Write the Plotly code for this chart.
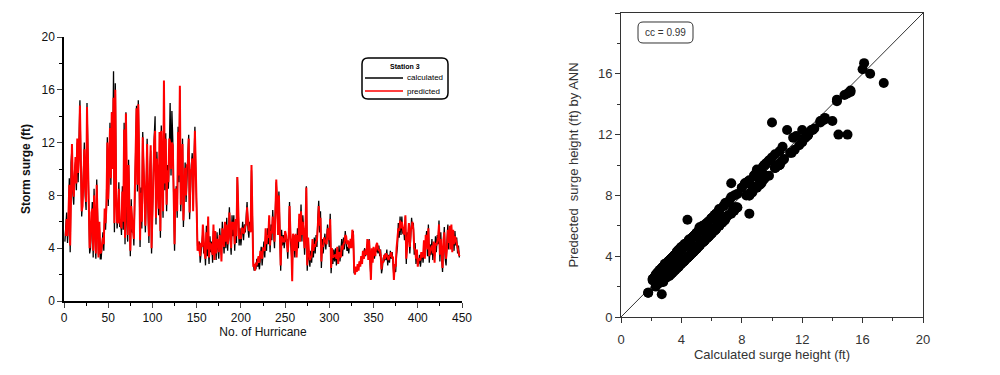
import plotly.graph_objects as go

# Hurricane index 1..447
calculated = [
    4.5, 5.3, 6.7, 4.4, 6.0, 9.3, 3.7, 10.5, 11.6, 8.2,
    7.3, 9.8, 10.5, 8.4, 12.0, 9.0, 11.5, 15.2, 10.7, 6.4,
    7.7, 9.5, 12.0, 8.0, 6.9, 15.0, 11.8, 9.2, 3.6, 4.0,
    6.2, 7.5, 3.3, 8.5, 5.0, 3.2, 9.2, 4.5, 3.5, 5.6,
    3.2, 3.2, 4.8, 5.2, 3.8, 6.5, 5.4, 7.6, 12.4, 7.2,
    10.0, 13.5, 8.8, 14.3, 10.5, 17.4, 5.2, 16.5, 8.5, 5.5,
    6.3, 9.0, 5.6, 6.2, 5.0, 8.7, 5.4, 13.5, 4.3, 14.3,
    6.0, 4.5, 10.7, 6.5, 3.4, 7.7, 5.2, 5.8, 4.2, 7.7,
    10.2, 14.8, 8.3, 15.2, 10.2, 4.1, 8.6, 5.5, 12.8, 9.8,
    6.5, 5.2, 8.4, 12.3, 7.0, 4.4, 9.5, 11.4, 3.6, 7.4,
    9.6, 12.4, 14.0, 5.8, 11.3, 8.3, 6.5, 10.0, 4.8, 13.3,
    9.4, 6.3, 16.1, 8.4, 12.7, 6.8, 10.3, 8.5, 11.0, 15.0,
    9.5, 14.4, 12.2, 7.3, 3.8, 8.0, 8.7, 6.3, 13.2, 9.0,
    16.0, 6.8, 10.2, 12.3, 5.6, 8.9, 10.5, 7.5, 9.8, 10.8,
    12.6, 6.2, 9.4, 10.3, 11.2, 8.5, 10.5, 13.2, 9.6, 6.0,
    4.2, 3.9, 4.5, 2.9, 3.8, 4.6, 5.2, 3.6, 4.1, 2.7,
    5.7, 3.4, 4.4, 2.8, 4.9, 3.7, 4.5, 2.9, 5.3, 3.6,
    4.8, 3.1, 5.2, 4.0, 3.2, 5.5, 4.2, 3.5, 6.0, 4.5,
    3.6, 5.5, 4.0, 6.3, 3.8, 5.2, 7.1, 4.6, 3.5, 6.5,
    4.9, 6.5, 3.8, 5.7, 4.4, 9.4, 5.8, 4.2, 5.5, 4.2,
    5.0, 6.0, 4.6, 5.8, 5.2, 6.3, 7.5, 5.5, 4.8, 6.0,
    5.7, 9.9, 6.2, 3.0, 2.3, 2.8, 2.4, 3.2, 2.6, 2.9,
    2.4, 3.3, 4.1, 2.7, 3.5, 4.5, 3.3, 5.0, 3.8, 5.5,
    4.3, 6.0, 3.7, 5.8, 4.6, 6.9, 5.2, 4.0, 7.0, 9.0,
    7.0, 5.5, 8.3, 4.5, 2.3, 5.4, 4.2, 5.0, 4.0, 4.8,
    4.5, 4.7, 3.2, 5.1, 7.5, 4.7, 3.8, 2.7, 4.6, 5.0,
    3.3, 4.6, 3.8, 5.5, 4.0, 6.2, 5.0, 7.3, 4.5, 6.5,
    5.4, 3.5, 5.0, 8.7, 2.3, 4.3, 3.2, 2.6, 3.8, 2.9,
    4.2, 3.3, 4.8, 3.6, 5.0, 4.1, 6.2, 7.6, 5.2, 6.8,
    2.5, 4.7, 3.6, 4.3, 5.1, 3.9, 4.8, 5.8, 5.0, 4.1,
    6.6, 2.1, 3.5, 2.8, 3.9, 3.0, 4.0, 2.7, 3.6, 3.3,
    4.2, 3.0, 3.8, 4.7, 3.4, 4.8, 3.9, 5.3, 4.4, 3.8,
    4.1, 3.6, 4.5, 4.2, 4.5, 5.0, 5.3, 2.1, 2.3, 2.2,
    2.5, 2.4, 2.7, 2.6, 3.0, 2.9, 3.2, 3.3, 3.6, 4.0,
    3.4, 3.9, 4.3, 3.5, 4.7, 3.0, 1.8, 3.5, 3.3, 3.6,
    3.2, 3.8, 3.7, 4.0, 3.6, 4.2, 3.4, 3.9, 2.1, 2.5,
    3.3, 3.0, 3.6, 3.1, 3.9, 2.7, 3.5, 2.9, 3.8, 3.2,
    3.7, 2.8, 1.8, 2.4, 2.2, 3.5, 4.1, 5.9, 4.8, 6.4,
    5.0, 6.4, 5.1, 5.6, 4.6, 6.4, 2.8, 5.2, 4.5, 5.4,
    3.6, 4.8, 6.3, 5.5, 5.9, 3.5, 4.4, 2.8, 3.4, 3.0,
    2.8, 3.5, 2.6, 3.2, 3.7, 2.9, 4.2, 3.7, 4.6, 5.3,
    3.4, 5.8, 2.9, 4.3, 3.5, 4.7, 3.1, 4.0, 3.4, 4.9,
    3.7, 5.0, 4.3, 6.1, 3.0, 5.2, 3.3, 2.2, 4.1, 5.6,
    3.2, 2.7, 4.5, 5.8, 3.9, 5.3, 4.4, 5.6, 4.2, 5.0,
    3.8, 5.3, 4.2, 4.8, 3.6, 4.2, 3.3,
]

predicted = [
    5.0, 5.0, 6.2, 4.9, 6.5, 8.8, 4.2, 10.0, 11.9, 8.8,
    7.9, 9.3, 10.9, 8.9, 12.3, 9.7, 11.0, 14.8, 11.2, 6.8,
    7.2, 10.0, 11.5, 8.5, 7.5, 14.7, 11.3, 8.7, 4.0, 4.6,
    6.7, 7.0, 3.8, 8.0, 5.5, 3.6, 8.8, 5.0, 3.3, 6.0,
    3.6, 3.7, 4.4, 4.8, 4.3, 7.0, 5.9, 7.2, 12.0, 7.7,
    10.5, 13.1, 9.3, 14.3, 10.0, 15.4, 5.9, 16.0, 8.0, 6.0,
    5.9, 8.5, 6.1, 5.7, 5.5, 8.3, 6.0, 13.0, 4.8, 14.2,
    6.5, 5.0, 10.3, 7.1, 3.8, 7.2, 5.7, 5.3, 4.7, 8.1,
    9.8, 14.6, 8.8, 14.9, 10.7, 4.6, 8.2, 6.0, 12.4, 10.3,
    7.0, 5.7, 8.9, 11.9, 7.5, 4.9, 9.1, 11.8, 4.0, 7.0,
    10.1, 12.0, 12.9, 6.3, 10.8, 8.8, 7.0, 12.8, 5.3, 12.9,
    9.0, 6.8, 16.7, 8.9, 12.3, 7.3, 9.9, 9.0, 12.3, 12.0,
    10.0, 12.0, 11.8, 8.8, 4.3, 8.5, 8.2, 6.8, 12.8, 9.5,
    16.3, 7.3, 9.8, 11.9, 6.1, 9.4, 10.1, 8.0, 10.3, 10.4,
    12.3, 6.7, 9.9, 9.9, 10.8, 6.8, 10.0, 12.9, 10.1, 6.5,
    3.8, 4.5, 4.0, 3.4, 4.4, 4.1, 5.8, 4.1, 3.6, 3.2,
    5.2, 3.9, 6.4, 3.3, 4.4, 4.3, 4.0, 3.5, 5.8, 3.1,
    5.3, 3.6, 4.7, 4.6, 3.7, 5.0, 4.8, 3.0, 5.5, 5.1,
    4.1, 6.0, 4.5, 5.8, 4.3, 4.7, 6.7, 5.1, 4.0, 6.0,
    5.4, 6.0, 4.3, 6.2, 4.9, 9.4, 5.3, 4.7, 5.0, 4.7,
    5.5, 5.5, 5.1, 5.3, 5.7, 5.8, 7.1, 6.0, 5.3, 5.5,
    5.2, 10.3, 5.7, 2.6, 2.8, 2.3, 2.9, 2.7, 3.1, 3.4,
    2.9, 3.8, 3.6, 3.2, 4.0, 4.0, 3.8, 5.5, 4.3, 5.0,
    4.8, 6.5, 4.2, 5.3, 5.1, 6.4, 5.7, 4.5, 6.6, 9.2,
    7.5, 5.0, 8.0, 5.0, 2.7, 4.9, 4.7, 4.5, 4.5, 5.3,
    5.0, 4.2, 3.7, 4.6, 7.2, 5.2, 4.3, 1.5, 5.1, 4.5,
    3.8, 5.1, 3.3, 5.0, 4.5, 6.6, 4.5, 6.8, 5.0, 6.0,
    4.9, 4.0, 5.5, 8.6, 2.7, 4.8, 3.7, 3.1, 3.3, 3.4,
    4.7, 3.8, 4.3, 4.1, 4.5, 4.6, 5.7, 7.2, 5.7, 6.3,
    3.0, 4.2, 4.1, 4.8, 4.6, 4.4, 4.3, 5.4, 5.5, 4.6,
    6.2, 2.5, 4.0, 3.3, 3.4, 3.5, 3.5, 3.2, 4.1, 2.8,
    3.7, 3.5, 3.3, 4.2, 3.9, 4.3, 4.4, 5.0, 4.9, 4.3,
    4.6, 4.1, 4.0, 4.7, 4.0, 5.4, 5.0, 2.5, 2.0, 2.6,
    2.2, 2.8, 2.3, 3.0, 2.6, 3.4, 2.8, 3.8, 3.2, 3.6,
    3.9, 3.5, 4.7, 3.1, 4.6, 3.4, 1.6, 4.0, 2.9, 4.1,
    3.7, 3.4, 4.2, 4.4, 4.0, 3.8, 3.9, 3.5, 2.4, 3.0,
    2.9, 3.5, 3.2, 3.6, 3.5, 3.2, 3.1, 3.4, 3.4, 3.7,
    3.3, 3.3, 1.6, 2.8, 2.6, 4.0, 4.6, 5.5, 5.3, 6.1,
    5.5, 6.0, 5.6, 5.1, 5.1, 6.5, 3.2, 4.7, 5.0, 5.9,
    4.1, 5.3, 5.9, 6.0, 5.4, 4.0, 3.9, 3.2, 3.9, 2.6,
    3.2, 3.1, 3.1, 3.7, 3.3, 3.4, 4.6, 3.2, 5.0, 4.9,
    3.9, 5.5, 3.4, 3.8, 4.0, 4.2, 3.6, 4.5, 2.9, 4.4,
    4.2, 4.6, 4.8, 5.8, 3.5, 4.7, 3.8, 2.5, 4.6, 5.2,
    3.7, 3.2, 4.0, 5.4, 4.4, 5.7, 3.9, 5.8, 3.7, 5.4,
    4.3, 4.9, 4.7, 4.3, 4.1, 3.7, 3.4,
]

hurricane_no = list(range(1, len(calculated) + 1))

left_x_ticks = [0, 50, 100, 150, 200, 250, 300, 350, 400, 450]
left_y_ticks = [0, 4, 8, 12, 16, 20]
right_ticks = [0, 4, 8, 12, 16, 20]
diag = [0, 20]

legend_title = "Station 3"
legend_names = ["calculated", "predicted"]
legend_colors = ["black", "#ff0000"]

W, H = 1000, 375
OFF = 8  # page body margin offset in the screenshot
FONT = "Liberation Sans, Arial, sans-serif"


def px(x):
    return (x - OFF) / W


def py(y):
    return 1 - (y - OFF) / H


def rounded_rect(x0, y0, x1, y1, r):
    def P(x, y):
        return f"{px(x):.5f},{py(y):.5f}"
    return (
        f"M {P(x0 + r, y0)} L {P(x1 - r, y0)} Q {P(x1, y0)} {P(x1, y0 + r)} "
        f"L {P(x1, y1 - r)} Q {P(x1, y1)} {P(x1 - r, y1)} "
        f"L {P(x0 + r, y1)} Q {P(x0, y1)} {P(x0, y1 - r)} "
        f"L {P(x0, y0 + r)} Q {P(x0, y0)} {P(x0 + r, y0)} Z"
    )


fig = go.Figure()

fig.add_trace(go.Scatter(
    x=hurricane_no, y=calculated, mode="lines", name="calculated",
    line=dict(color="black", width=1.3), xaxis="x", yaxis="y",
))
fig.add_trace(go.Scatter(
    x=hurricane_no, y=predicted, mode="lines", name="predicted",
    line=dict(color="#ff0000", width=2.0), xaxis="x", yaxis="y",
))

fig.add_trace(go.Scatter(
    x=diag, y=diag, mode="lines",
    line=dict(color="#333333", width=1), xaxis="x2", yaxis="y2",
))
fig.add_trace(go.Scatter(
    x=calculated, y=predicted, mode="markers",
    marker=dict(color="black", size=10), xaxis="x2", yaxis="y2",
))

left_font = dict(family=FONT, size=12, color="#111111")
right_font = dict(family=FONT, size=13, color="#333333")

shapes = [
    dict(type="path", xref="paper", yref="paper",
         path=rounded_rect(362, 58, 448, 99, 6),
         line=dict(color="black", width=1.5)),
    dict(type="path", xref="paper", yref="paper",
         path=rounded_rect(638, 22, 693, 43, 5),
         line=dict(color="#333333", width=1)),
]
annotations = [
    dict(text=f"<b>{legend_title}</b>", xref="paper", yref="paper",
         x=px(405), y=py(66), xanchor="center", yanchor="middle", showarrow=False,
         font=dict(family=FONT, size=7, color="black")),
    dict(text="cc = 0.99", xref="paper", yref="paper",
         x=px(665.5), y=py(32.5), xanchor="center", yanchor="middle",
         showarrow=False, font=dict(family=FONT, size=10, color="#333333")),
]
for i, (name, col) in enumerate(zip(legend_names, legend_colors)):
    yy = 78 + 13 * i
    shapes.append(dict(type="line", xref="paper", yref="paper",
                       x0=px(365), x1=px(403), y0=py(yy), y1=py(yy),
                       line=dict(color=col, width=1.5)))
    annotations.append(dict(text=name, xref="paper", yref="paper",
                            x=px(405), y=py(yy), xanchor="left", yanchor="middle",
                            showarrow=False, font=dict(family=FONT, size=8, color="black")))

fig.update_layout(
    width=W, height=H,
    margin=dict(l=0, r=0, t=0, b=0),
    paper_bgcolor="white", plot_bgcolor="white",
    showlegend=False,
    xaxis=dict(
        domain=[px(64), px(462)], range=[0, 450], anchor="y", automargin=False,
        tickvals=left_x_ticks, ticks="outside", ticklen=5, tickwidth=1,
        showline=True, linecolor="black", linewidth=1.5, showgrid=False, zeroline=False,
        minor=dict(dtick=25, ticks="outside", ticklen=3, tickcolor="black"),
        tickfont=left_font,
        title=dict(text="No. of Hurricane", font=dict(family=FONT, size=12, color="#111111"), standoff=0),
    ),
    yaxis=dict(
        domain=[py(301), py(37)], range=[0, 20], anchor="x", automargin=False,
        tickvals=left_y_ticks, ticks="outside", ticklen=5, tickwidth=1,
        showline=True, linecolor="black", linewidth=1.5, showgrid=False, zeroline=False,
        minor=dict(dtick=2, ticks="outside", ticklen=3, tickcolor="black"),
        tickfont=left_font,
        title=dict(text="<b>Storm surge (ft)</b>", font=dict(family=FONT, size=12, color="#111111"), standoff=8),
    ),
    xaxis2=dict(
        domain=[px(621), px(923)], range=[0, 20], anchor="y2", automargin=False,
        tickvals=right_ticks, ticks="outside", ticklen=5, tickwidth=1, tickcolor="#333333",
        ticklabelstandoff=5,
        showline=True, mirror=True, linecolor="#333333", linewidth=1, showgrid=False, zeroline=False,
        minor=dict(dtick=2, ticks="outside", ticklen=3, tickcolor="#333333"),
        tickfont=right_font,
        title=dict(text="Calculated surge height (ft)", font=right_font, standoff=3),
    ),
    yaxis2=dict(
        domain=[py(317), py(13)], range=[0, 20], anchor="x2", automargin=False,
        tickvals=right_ticks, ticks="outside", ticklen=5, tickwidth=1, tickcolor="#333333",
        showline=True, mirror=True, linecolor="#333333", linewidth=1, showgrid=False, zeroline=False,
        minor=dict(dtick=2, ticks="outside", ticklen=3, tickcolor="#333333"),
        tickfont=right_font,
        title=dict(text="Predected  surge height (ft) by ANN", font=right_font, standoff=16),
    ),
    shapes=shapes,
    annotations=annotations,
)

fig.write_html("out.html")
